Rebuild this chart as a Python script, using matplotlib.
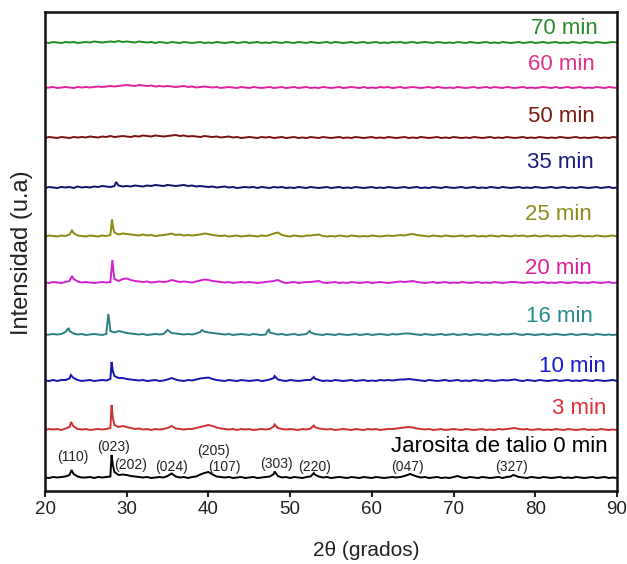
import numpy as np
import matplotlib
matplotlib.use("Agg")
import matplotlib.pyplot as plt

plt.rcParams['font.family'] = ['Liberation Sans', 'DejaVu Sans']

# ---------------- data ----------------
# sampling grid of 2-theta (degrees), 0.5 degree step
two_theta = np.linspace(20, 90, 141)

# intensity above each pattern's own baseline (a.u.), read at every grid point
int_0 = [0.5, 0, 1, 0.5, 1, 1.5, 3, 4, 1.5, 0.5,
         0.5, 1, 0, 1, 0.5, 1, 1.5, 6, 3, 3.5,
         3, 2, 1.5, 1, 0.5, 1, 0, 0.5, 1, 0.5,
         2, 4.5, 1.5, 0.5, 1, 0, 1, 1.5, 3.5, 5,
         6, 3.5, 1.5, 1, 0.5, 1, 0, 0.5, 1, 0,
         0.5, 1, 0, 0.5, 1, 1.5, 4, 2, 0.5, 1,
         0, 1, 0.5, 0, 1, 1.5, 3.5, 1.5, 0.5, 1,
         0, 0.5, 1, 0.5, 0, 1, 0.5, 0, 1, 0.5,
         0, 1, 0.5, 0, 0.5, 1, 0.5, 1, 2, 3.5,
         3, 1.5, 0.5, 1, 0, 0.5, 1, 0, 0.5, 0,
         1, 2, 0.5, 0, 1, 0.5, 0, 1, 0.5, 0,
         0.5, 1, 0, 1, 1.5, 2.5, 1, 0.5, 0, 1,
         0.5, 0, 1, 0.5, 0, 0.5, 1, 0, 0.5, 0,
         1, 0.5, 0, 0.5, 1, 0, 0.5, 1, 0, 0.5,
         0]
apex_x_0 = [23.25, 28.15, 28.3, 48.1, 52.9, 64.7, 77.3]
apex_y_0 = [8, 23, 13, 6.5, 5, 4, 3]

int_3 = [0, 1, 0.5, 1, 0, 1.5, 3, 3.5, 1, 0.5,
         1, 0, 0.5, 1, 0.5, 1, 2, 5, 3, 4,
         3, 2, 1, 1.5, 0.5, 1, 0, 1, 0.5, 1,
         2, 4, 1.5, 1, 0.5, 1, 1, 2, 3, 4,
         5, 4, 2.5, 1.5, 1, 0.5, 1, 0, 1, 0.5,
         1, 0, 0.5, 1, 0.5, 1, 3.5, 2, 1, 0.5,
         1, 0.5, 0, 1, 0.5, 1.5, 3, 1.5, 1, 0.5,
         1, 0, 0.5, 1, 0.5, 0, 1, 0.5, 0, 1,
         0.5, 1, 0, 0.5, 1, 1, 1.5, 2, 2.5, 3,
         2.5, 1.5, 1, 0.5, 1, 0, 0.5, 1, 0, 0.5,
         1, 0.5, 0, 1, 0.5, 0, 0.5, 1, 0, 0.5,
         0, 1, 0.5, 1, 1.5, 2, 1, 0.5, 1, 0,
         0.5, 1, 0, 0.5, 0, 1, 0.5, 0, 1, 0.5,
         0, 0.5, 1, 0, 0.5, 0, 1, 0.5, 0, 0.5,
         0]
apex_x_3 = [23.2, 28.15, 28.3, 48.1, 52.9]
apex_y_3 = [8, 25, 12, 5.5, 4.5]

int_10 = [0.5, 0, 1, 0, 1, 1, 2.5, 3, 1, 0,
          0.5, 1, 0, 0.5, 1, 0.5, 2, 5, 3, 3,
          2, 1.5, 1, 0.5, 1, 0, 0.5, 1, 0, 0.5,
          1.5, 3, 1.5, 0.5, 0, 1, 0.5, 1.5, 2.5, 3,
          3.5, 2, 1, 0.5, 0, 1, 0.5, 0, 1, 0.5,
          0, 0.5, 1, 0, 0.5, 1.5, 3, 1.5, 0.5, 0,
          1, 0.5, 0, 0.5, 1, 1, 2.5, 1, 0, 0.5,
          0, 1, 0.5, 0, 0.5, 1, 0, 0.5, 1, 0,
          0.5, 0, 1, 0.5, 1, 0.5, 1, 1.5, 1.5, 2,
          1.5, 1, 0.5, 0, 1, 0.5, 0, 0.5, 1, 0,
          0.5, 1, 0, 0.5, 0, 1, 0.5, 0, 1, 0.5,
          0, 0.5, 1, 0.5, 1, 1.5, 0.5, 0, 1, 0.5,
          0, 1, 0.5, 0, 0.5, 1, 0, 0.5, 1, 0,
          0.5, 0, 1, 0.5, 0, 1, 0.5, 0, 0.5, 1,
          0]
apex_x_10 = [23.15, 28.15, 28.3, 48.1, 52.9]
apex_y_10 = [6, 19, 10, 5, 4]

int_16 = [0, 0.5, 1, 0.5, 1, 3, 4, 1.5, 0.5, 1,
          0, 0.5, 1, 0.5, 0, 1, 4, 2.5, 4, 3,
          2, 1.5, 1, 0.5, 1, 0, 0.5, 1, 0.5, 1,
          5, 2, 1.5, 1, 0.5, 1, 0.5, 1.5, 3, 3.5,
          2.5, 2, 1.5, 1, 0.5, 1, 0, 0.5, 1, 0.5,
          0, 1, 0.5, 0, 0.5, 2.5, 1.5, 0.5, 1, 0,
          0.5, 1, 0, 0.5, 1, 2.5, 1, 0.5, 0, 1,
          0.5, 0, 1, 0.5, 0, 0.5, 1, 0, 0.5, 1,
          0, 0.5, 1, 0.5, 0, 1, 0.5, 1, 1.5, 1.5,
          1, 0.5, 0, 1, 0.5, 0, 0.5, 1, 0, 0.5,
          1, 0, 0.5, 1, 0, 0.5, 1, 0.5, 0, 1,
          0.5, 0, 1, 0.5, 1, 1.5, 0.5, 0, 1, 0.5,
          0, 0.5, 1, 0, 0.5, 1, 0.5, 0, 0.5, 1,
          0, 0.5, 1, 0.5, 0, 1, 0.5, 0, 0.5, 0,
          0.5]
apex_x_16 = [22.9, 27.75, 27.9, 39.2, 47.4, 52.4]
apex_y_16 = [7, 21, 12, 5, 6, 4]

int_20 = [0.5, 0, 1, 0.5, 0, 1, 2, 4, 1.5, 0.5,
          1, 0.5, 0, 0.5, 1, 0.5, 1, 4, 2, 4,
          4.5, 3, 2, 1.5, 1, 1.5, 0.5, 1, 1.5, 1,
          1.5, 3, 2, 1, 1.5, 1, 0.5, 1.5, 2.5, 3.5,
          3, 2, 1.5, 1, 0.5, 1, 0, 0.5, 1, 0.5,
          1, 0.5, 0, 0.5, 1, 1.5, 2, 3, 1, 0,
          0.5, 1, 0, 0.5, 1, 1, 1.5, 2, 0.5, 0,
          0.5, 1, 0, 0.5, 0, 1, 0.5, 0, 0.5, 1,
          0, 0.5, 1, 0.5, 0, 0.5, 1, 1.5, 1, 1.5,
          2, 1, 0.5, 0, 0.5, 1, 0, 0.5, 1, 0,
          0.5, 0, 1, 0.5, 0, 0.5, 1, 0, 0.5, 0,
          1, 0.5, 0, 0.5, 1, 1, 0.5, 0, 0.5, 1,
          0, 0.5, 1, 0, 0.5, 0, 1, 0.5, 0, 0.5,
          1, 0, 0.5, 0, 1, 0.5, 0, 0.5, 1, 0,
          0.5]
apex_x_20 = [23.3, 28.25, 28.4]
apex_y_20 = [7, 23, 10]

int_25 = [0, 1, 0.5, 0, 1, 0.5, 2, 3.5, 1, 0.5,
          0, 1, 0.5, 0, 1, 0.5, 1.5, 4, 2, 3,
          2.5, 2, 1.5, 1, 2, 1, 1.5, 0.5, 1, 1.5,
          2, 3, 1.5, 2, 1, 1.5, 1, 1.5, 2, 3,
          2.5, 1.5, 1, 0.5, 1, 0, 0.5, 1, 0, 0.5,
          1, 0.5, 0, 1, 0.5, 1.5, 3, 4, 1.5, 0.5,
          0, 1, 0.5, 0, 1, 1, 1.5, 2, 0.5, 0,
          0.5, 0, 1, 0.5, 0, 1, 0.5, 0, 0.5, 0,
          1, 0.5, 0, 0.5, 1, 0.5, 1, 1.5, 1, 2,
          2.5, 1.5, 1, 0.5, 0, 1, 0.5, 0, 1, 0.5,
          0, 0.5, 1, 0, 0.5, 1, 0, 0.5, 0, 1,
          0.5, 0, 1, 0.5, 0, 1, 0.5, 1, 0, 0.5,
          1, 0, 0.5, 1, 0, 0.5, 0, 1, 0.5, 0,
          0.5, 1, 0, 0.5, 0, 1, 0.5, 0, 0.5, 1,
          0]
apex_x_25 = [23.3, 28.2, 28.35]
apex_y_25 = [6, 17, 8]

int_35 = [0, 1, 0.5, 0, 1, 0.5, 1, 0, 1.5, 0.5,
          1, 0.5, 1.5, 1, 2, 1.5, 1, 2, 2.5, 1.5,
          2, 1.5, 2.5, 2, 1.5, 2.5, 2, 3, 2.5, 2,
          3, 2.5, 2, 2.5, 3, 2, 2.5, 1.5, 2, 1.5,
          1, 1.5, 0.5, 1, 1.5, 0.5, 1, 0, 0.5, 1,
          0.5, 1, 0, 1, 0.5, 0, 1, 0.5, 1, 0,
          0.5, 0, 1, 0.5, 0, 1, 0.5, 0, 0.5, 1,
          0, 0.5, 1, 0, 0.5, 0, 1, 0.5, 0, 0.5,
          1, 0, 0.5, 0, 1, 0.5, 0, 0.5, 1, 0,
          0.5, 1, 0, 0.5, 0, 1, 0.5, 0, 1, 0.5,
          0, 0.5, 1, 0, 0.5, 1, 0, 0.5, 0, 1,
          0.5, 0, 1, 0.5, 0, 0.5, 1, 0, 0.5, 0,
          1, 0.5, 0, 0.5, 1, 0, 0.5, 1, 0, 0.5,
          0, 1, 0.5, 0, 0.5, 1, 0, 0.5, 1, 0,
          0.5]
apex_x_35 = [28.7]
apex_y_35 = [6]

int_50 = [0, 1, 0.5, 0, 1, 0.5, 0, 1, 0.5, 1,
          0.5, 1.5, 1, 0.5, 1.5, 1, 2, 1, 1.5, 2,
          1.5, 1, 2, 1.5, 2.5, 2, 1.5, 2.5, 2, 1.5,
          2, 2.5, 3, 2, 2.5, 1.5, 2, 1.5, 1, 2,
          1.5, 1, 1.5, 0.5, 1, 1.5, 0.5, 1, 0, 0.5,
          1, 0.5, 0, 1, 0.5, 1, 0, 0.5, 1, 0,
          0.5, 1, 0, 0.5, 0, 1, 0.5, 0, 1, 0.5,
          0, 0.5, 1, 0, 0.5, 0, 1, 0.5, 0, 0.5,
          1, 0, 0.5, 0, 1, 0.5, 0, 0.5, 1, 0,
          0.5, 0, 1, 0.5, 0, 0.5, 1, 0, 0.5, 0,
          1, 0.5, 0, 0.5, 0, 1, 0.5, 0, 0.5, 1,
          0, 0.5, 0, 1, 0.5, 0, 0.5, 1, 0, 0.5,
          0, 1, 0.5, 0, 0.5, 0, 1, 0.5, 0, 0.5,
          1, 0, 0.5, 0, 0.5, 1, 0, 0.5, 0, 1,
          0.5]
apex_x_50 = []
apex_y_50 = []

int_60 = [0, 0.5, 1, 0, 0.5, 1, 0.5, 0, 1, 0.5,
          1, 0.5, 1, 1.5, 1, 1.5, 2, 1.5, 2, 2.5,
          3, 2.5, 2, 3, 2.5, 2, 2.5, 1.5, 2, 1.5,
          2, 1.5, 1, 1.5, 2, 1, 1.5, 0.5, 1, 1.5,
          1, 0.5, 1, 0, 0.5, 1, 0.5, 0, 1, 0.5,
          0, 1, 0.5, 0, 0.5, 1, 0, 0.5, 1, 0,
          0.5, 1, 0, 0.5, 1, 0, 0.5, 0, 1, 0.5,
          0, 0.5, 1, 0, 0.5, 1, 0.5, 0, 1, 0,
          0.5, 0, 1, 0.5, 1, 0, 0.5, 1, 0, 0.5,
          1, 0.5, 0, 0.5, 1, 0, 1, 0.5, 0, 0.5,
          0, 1, 0.5, 0, 0.5, 1, 0, 0.5, 1, 0,
          1, 0.5, 0, 1, 0.5, 0, 0.5, 1, 0, 0.5,
          0, 0.5, 1, 0.5, 0, 1, 0, 0.5, 1, 0,
          0.5, 1, 0, 0.5, 0, 1, 0.5, 0, 1, 0.5,
          0]
apex_x_60 = []
apex_y_60 = []

int_70 = [0.5, 0, 1, 0.5, 0, 1, 0.5, 1, 0, 0.5,
          1, 0.5, 1.5, 1, 0.5, 1, 1.5, 1, 2, 1,
          1.5, 1, 0.5, 1.5, 1, 0.5, 1, 0, 1, 0.5,
          0, 1, 0.5, 0, 1, 0.5, 0, 0.5, 1, 0,
          0.5, 0, 1, 0.5, 0, 0.5, 1, 0, 0.5, 1,
          0, 0.5, 1, 0, 0.5, 0, 1, 0.5, 0, 1,
          0.5, 0, 1, 0.5, 0, 1, 0.5, 0, 0.5, 1,
          0, 1, 0.5, 0, 0.5, 1, 0, 0.5, 1, 0,
          0.5, 1, 0, 0.5, 0, 1, 0.5, 1, 0, 0.5,
          1, 0, 0.5, 1, 0.5, 0, 1, 0.5, 0, 0.5,
          0, 1, 0.5, 0, 1, 0.5, 0, 0.5, 1, 0,
          0.5, 0, 1, 0.5, 0, 0.5, 1, 0, 0.5, 1,
          0, 0.5, 1, 0, 0.5, 1, 0, 0.5, 0, 1,
          0.5, 0, 1, 0.5, 0, 1, 0.5, 0, 0.5, 1,
          0.5]
apex_x_70 = []
apex_y_70 = []

sample_labels = ["Jarosita de talio 0 min", "3 min", "10 min", "16 min", "20 min",
                 "25 min", "35 min", "50 min", "60 min", "70 min"]
intensities = [int_0, int_3, int_10, int_16, int_20, int_25, int_35, int_50, int_60, int_70]
apex_xs = [apex_x_0, apex_x_3, apex_x_10, apex_x_16, apex_x_20,
           apex_x_25, apex_x_35, apex_x_50, apex_x_60, apex_x_70]
apex_ys = [apex_y_0, apex_y_3, apex_y_10, apex_y_16, apex_y_20,
           apex_y_25, apex_y_35, apex_y_50, apex_y_60, apex_y_70]
# vertical stacking offset of each pattern (a.u.)
offsets = [13, 61, 110, 156, 208, 254.5, 303, 353, 403, 448]

hkl_labels = ["(110)", "(023)", "(202)", "(024)", "(205)", "(107)",
              "(303)", "(220)", "(047)", "(327)"]

# ---------------- style / layout ----------------
line_colors = ["#000000", "#d03030", "#1515b0", "#2a8080", "#d020d0",
               "#8a8a10", "#10106e", "#7a1010", "#e0209a", "#1e8c1e"]
text_colors = ["#000000", "#e03030", "#1a1ad0", "#2a8a8a", "#e0209a",
               "#8c8c1a", "#1a1a80", "#7a1a10", "#e0308a", "#2a8a2a"]
# label anchor (right edge px, centre px) in the 627x564 figure
label_right_px = [608, 606, 606, 593, 592, 592, 594, 595, 595, 598]
label_cy_px = [446, 409, 366, 317, 268, 215, 163, 117, 65, 29]
hkl_cx_px = [72.5, 114, 131, 171, 214, 224, 276, 314.5, 407.5, 511]
hkl_cy_px = [457.5, 447.5, 465, 467.5, 451, 467.5, 464, 467.5, 467.5, 467.5]

W, H = 627, 564
fig = plt.figure(figsize=(W / 100, H / 100), dpi=100)
ax = fig.add_axes([45 / W, 1 - 491 / H, (617 - 45) / W, (491 - 12) / H])

for vals, ax_x, ax_y, off, col in zip(intensities, apex_xs, apex_ys, offsets, line_colors):
    x = np.concatenate([two_theta, np.asarray(ax_x, dtype=float)])
    y = np.concatenate([np.asarray(vals, dtype=float), np.asarray(ax_y, dtype=float)])
    order = np.argsort(x, kind="stable")
    ax.plot(x[order], y[order] + off, color=col, lw=1.4, solid_joinstyle="miter")

ax.set_xlim(20, 90)
ax.set_ylim(0, 479)
ax.set_yticks([])
ax.set_xticks(range(20, 91, 10))
ax.tick_params(axis="x", direction="out", length=4, width=1.5, labelsize=13.5, pad=3,
               colors="#222222")
for s in ax.spines.values():
    s.set_linewidth(1.8)
    s.set_color("#111111")

for txt, rx, cy, c in zip(sample_labels, label_right_px, label_cy_px, text_colors):
    fig.text(rx / W, 1 - cy / H, txt, ha="right", va="center", fontsize=16, color=c)

for txt, cx, cy in zip(hkl_labels, hkl_cx_px, hkl_cy_px):
    fig.text(cx / W, 1 - cy / H, txt, ha="center", va="center", fontsize=10, color="#222222")

fig.text(366 / W, 1 - 551 / H, "2θ (grados)", ha="center", va="center", fontsize=15,
         color="#222222")
fig.text(22 / W, 1 - 253 / H, "Intensidad (u.a)", ha="center", va="center", fontsize=17,
         rotation=90, color="#222222")

fig.savefig("out.png", dpi=100)
